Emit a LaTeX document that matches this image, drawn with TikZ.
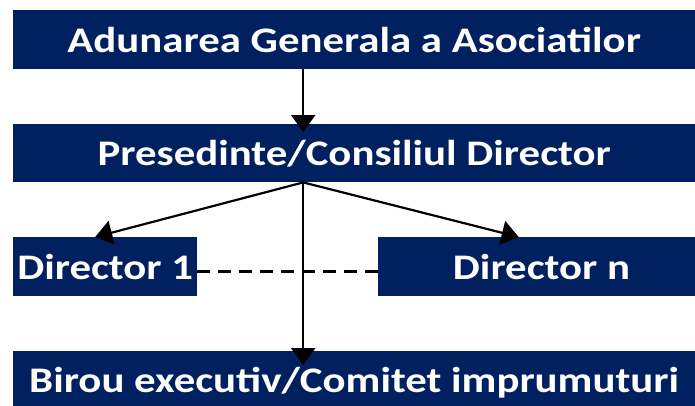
\documentclass[tikz,border=0pt]{standalone}
\usepackage{fontspec}
\setmainfont[FakeStretch=1.19]{Carlito}
\usetikzlibrary{arrows.meta, positioning}
\definecolor{navy}{RGB}{0,32,96}

\begin{document}
\begin{tikzpicture}[x=1pt, y=-1pt,
    box/.style={fill=navy, text=white, inner sep=0pt, anchor=north west,
        font=\bfseries\fontsize{36}{40}\selectfont}]
    \useasboundingbox (0,0) rectangle (695,405);

    %% boxes
    % Nodes
    \node[box, minimum width=682pt, minimum height=59pt] (general) at (13,10) {Adunarea Generala a Asociatilor};
    \node[box, minimum width=682pt, minimum height=58pt] (council) at (13,124) {Presedinte/Consiliul Director};
    \node[box, minimum width=184pt, minimum height=59pt] (dir1) at (13,237) {Director 1};
    \node[box, minimum width=317pt, minimum height=59pt] (dirn) at (378,237) {~Director n};
    \node[box, minimum width=682pt, minimum height=62pt] (birou) at (13,351) {Birou executiv/Comitet imprumuturi};

    %% links
    % Connections
    \coordinate (hub) at ([xshift=-51pt]council.south);
    \draw [line width=2.5pt, arrows = {-Triangle[width=24pt, length=17pt]}] (general.south -| hub) -- ([yshift=-8pt]council.north -| hub);
    \draw [line width=2.2pt, arrows = {-Triangle[width=24pt, length=17pt]}] (hub) -- ([xshift=-10pt]dir1.north);
    \draw [line width=2.2pt, arrows = {-Triangle[width=24pt, length=17pt]}] (hub) -- ([xshift=-18pt]dirn.north);
    \draw [line width=2.5pt, arrows = {-Triangle[width=24pt, length=17pt]}] (hub) -- ([yshift=-14pt]birou.north -| hub);
    \draw [line width=3pt, dash pattern=on 13pt off 8pt] ([yshift=-5pt]dir1.east) -- ([yshift=-5pt]dirn.west);
\end{tikzpicture}
\end{document}
